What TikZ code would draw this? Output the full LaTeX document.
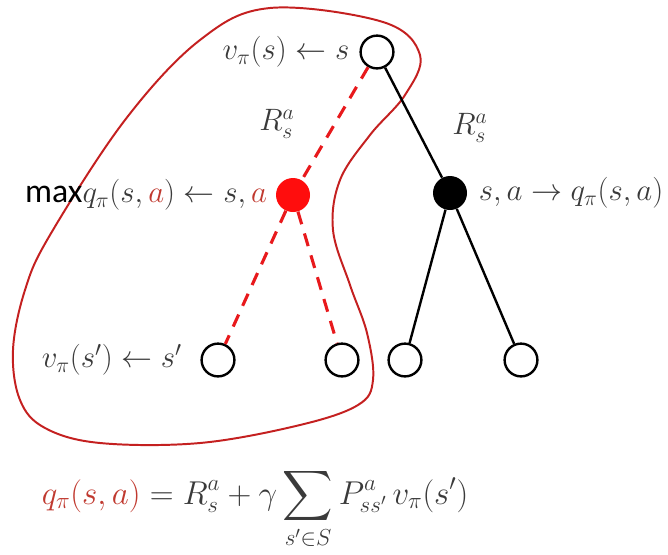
\RequirePackage{fix-cm}
\documentclass[tikz,border=0pt]{standalone}
\usepackage{amsmath}
\usepackage{fontspec}
\newfontfamily\maxfont{Carlito}
\usetikzlibrary{positioning}
\definecolor{bkRed}{HTML}{FF0D0D}
\definecolor{bkDash}{HTML}{E8191C}
\definecolor{bkLoop}{HTML}{C42020}
\definecolor{bkText}{HTML}{C0392F}
\definecolor{bkInk}{HTML}{3A3A3A}
\tikzset{
  sstate/.style={draw=black, circle, line width=1.7pt, minimum size=0.82cm, inner sep=0pt, fill=white},
  chosen/.style={circle, fill=bkRed, minimum size=0.85cm, inner sep=0pt},
  action/.style={circle, fill=black, minimum size=0.85cm, inner sep=0pt},
  lbl/.style={font=\fontsize{22}{26}\selectfont, text=bkInk, inner sep=1pt},
  branch/.style={line width=1.7pt, black},
  greedy/.style={line width=2.2pt, bkDash, dash pattern=on 0.33cm off 0.24cm},
  backup/.style={line width=1.4pt, bkLoop}
}
\begin{document}
\begin{tikzpicture}[x=0.025cm, y=-0.025cm]
  \useasboundingbox (0,0) rectangle (668,554);
  % backup region
  \draw[backup] plot[smooth cycle, tension=0.6] coordinates {
    (270,8) (383,22) (420,55) (405,95) (370,135) (340,180) (333,230)
    (350,285) (367,333) (373,380) (358,405) (300,425) (200,443) (100,443)
    (45,428) (20,400) (13,350) (25,290) (50,235) (125,120) (200,40)};
  % tree
  \node[sstate] (root) at (377,52) {};
  \node[chosen] (sa1) at (293,195) {};
  \node[action] (sa2) at (450,193) {};
  \node[sstate] (leaf1) at (218,360) {};
  \node[sstate] (leaf2) at (342,360) {};
  \node[sstate] (leaf3) at (405,360) {};
  \node[sstate] (leaf4) at (521,360) {};
  \draw[greedy] (root) -- (sa1);
  \draw[greedy] (sa1) -- (leaf1);
  \draw[greedy] (sa1) -- (leaf2);
  \draw[branch] (root) -- (sa2);
  \draw[branch] (sa2) -- (leaf3);
  \draw[branch] (sa2) -- (leaf4);
  % labels
  \node[lbl, left=6pt of root] (vroot) {$v_\pi(s)\leftarrow s$};
  \node[lbl, left=5pt of sa1] (qmax) {\textcolor{black}{\fontsize{24}{26}\maxfont max}$q_\pi(s,\textcolor{bkText}{a})\leftarrow s,\textcolor{bkText}{a}$};
  \node[lbl, right=7pt of sa2] (qsa) {$s,a\rightarrow q_\pi(s,a)$};
  \node[lbl, left=12pt of leaf1] (vleaf) {$v_\pi(s')\leftarrow s'$};
  \node[lbl] (rleft) at (277,124) {$R_s^a$};
  \node[lbl] (rright) at (470,128) {$R_s^a$};
  \node[lbl, anchor=base, font=\fontsize{23.5}{28}\selectfont] (eq) at (255,504)
    {$\displaystyle \textcolor{bkText}{q_\pi(s,a)} = R_s^a + \gamma\sum\limits_{s'\in S} P_{ss'}^a\, v_\pi(s')$};
\end{tikzpicture}
\end{document}
